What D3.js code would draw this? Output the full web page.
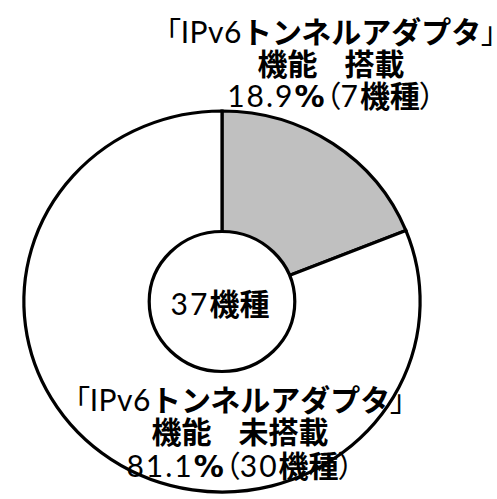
<!DOCTYPE html>
<html><head><meta charset="utf-8">
<script src="https://cdn.jsdelivr.net/npm/d3@7"></script>
<style>
html,body{margin:0;padding:0;background:#fff;}
svg{display:block;}
.p{font-feature-settings:"palt" 1;}
</style></head>
<body>
<script>
// ---- data ----
const categories = ["搭載", "未搭載"];
const counts = [7, 30];
const percents = [18.9, 81.1];
const totalLabel = 37;
const colors = ["#c0c0c0", "#ffffff"];

// ---- layout ----
const W = 497, H = 499;
const cx = 222, cy = 301.5, R = 190.5, r0 = 70, sx = 1.04;
const fonts = {
  C: "'Noto Sans CJK JP', sans-serif",
  L: "Lato, 'Noto Sans', sans-serif",
  D: "'DejaVu Sans', sans-serif"
};
const fs = 30;

const svg = d3.select("body").append("svg").attr("width", W).attr("height", H);

const pie = d3.pie().sort(null).value(d => d).startAngle(0).endAngle(2 * Math.PI);
const arc = d3.arc().innerRadius(0).outerRadius(R);

const g = svg.append("g").attr("transform", `translate(${cx},${cy}) scale(${sx},1)`);
g.selectAll("path").data(pie(counts)).join("path")
  .attr("d", arc)
  .attr("fill", (d, i) => colors[i])
  .attr("stroke", "#000")
  .attr("stroke-width", 3.2)
  .attr("vector-effect", "non-scaling-stroke")
  .attr("stroke-linejoin", "miter");

g.append("circle").attr("r", r0).attr("fill", "#fff").attr("stroke", "#000")
  .attr("stroke-width", 3.2).attr("vector-effect", "non-scaling-stroke");

// label builder: parts = [text, font key, weight, proportional, letterSpacing, dx]
function addLine(parent, x, y, parts) {
  const t = parent.append("text").attr("x", x).attr("y", y)
    .attr("text-anchor", "middle").attr("font-size", fs).attr("fill", "#000");
  parts.forEach(p => {
    const s = t.append("tspan").text(p[0])
      .attr("font-family", fonts[p[1]])
      .attr("font-weight", p[2] === true ? "bold" : (p[2] || "normal"));
    if (p[3]) s.attr("class", "p");
    if (p[4]) s.attr("letter-spacing", p[4]);
    if (p[5]) s.attr("dx", p[5]);
  });
  return t;
}

const labelPos = [{x: 331, y: [43, 75, 107]}, {x: 240, y: [411, 443, 477]}];
categories.forEach((c, i) => {
  const lp = labelPos[i];
  addLine(svg, lp.x, lp.y[0], [["「", "C", false, true], ["IPv6", "L", false, false, 0.5], ["トンネルアダプタ", "C", true], ["」", "C", false, true]]);
  addLine(svg, lp.x, lp.y[1], [["機能", "C", true], [c, "C", true, false, 0, 27]]);
  addLine(svg, lp.x, lp.y[2], [[percents[i].toFixed(1), "L", false, false, 2], ["%", "D", true, false, 1], ["（", "C", false, true], [String(counts[i]), "L", false, false, 2], ["機種", "C", true], ["）", "C", false, true]]);
});

addLine(svg, cx - 2, 315, [[String(totalLabel), "L", false, false, 2], ["機種", "C", true]]);
</script>
</body></html>
